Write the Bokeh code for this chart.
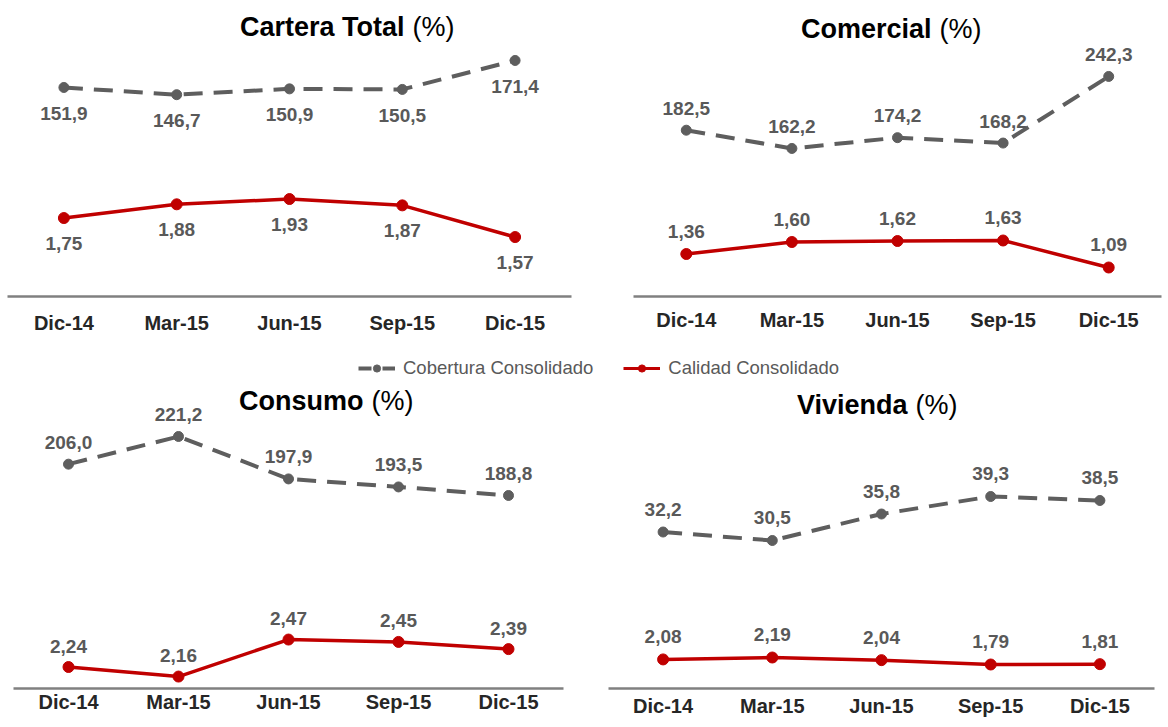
from bokeh.plotting import figure
from bokeh.models import ColumnDataSource, Range1d, FactorRange, Label, Legend, LegendItem
from bokeh.layouts import column, row
from bokeh.embed import file_html
from bokeh.resources import INLINE
from bokeh.core.properties import value

# ---------------- data ----------------
periods = ["Dic-14", "Mar-15", "Jun-15", "Sep-15", "Dic-15"]

cartera_cobertura = [151.9, 146.7, 150.9, 150.5, 171.4]
cartera_calidad = [1.75, 1.88, 1.93, 1.87, 1.57]
comercial_cobertura = [182.5, 162.2, 174.2, 168.2, 242.3]
comercial_calidad = [1.36, 1.60, 1.62, 1.63, 1.09]
consumo_cobertura = [206.0, 221.2, 197.9, 193.5, 188.8]
consumo_calidad = [2.24, 2.16, 2.47, 2.45, 2.39]
vivienda_cobertura = [32.2, 30.5, 35.8, 39.3, 38.5]
vivienda_calidad = [2.08, 2.19, 2.04, 1.79, 1.81]

titles = ["Cartera Total", "Comercial", "Consumo", "Vivienda"]
unit_text = "(%)"
series_names = ["Cobertura Consolidado", "Calidad Consolidado"]

# ---------------- style ----------------
GRAY = "#5e5e5e"
RED = "#c00000"
LABEL_COLOR = "#595959"
SANS = "Liberation Sans"


def fmt(v, d):
    return f"{v:.{d}f}".replace(".", ",")


def panel(title, cob, cal, width, height, left, right, bottom, cob_rng, cal_rng,
          cob_off, cal_off, bold_end, reg_start, title_y, standoff):
    p = figure(width=width, height=height, x_range=FactorRange(*periods),
               y_range=Range1d(*cob_rng), output_backend="svg", toolbar_location=None,
               y_axis_location=None, min_border_left=left, min_border_right=right,
               min_border_top=0, min_border_bottom=bottom, outline_line_color=None,
               background_fill_color="white", border_fill_color="white")
    p.extra_y_ranges = {"cal": Range1d(*cal_rng)}
    p.xgrid.visible = False
    p.ygrid.visible = False
    ax = p.xaxis[0]
    ax.axis_line_color = "#808080"
    ax.axis_line_width = 2.5
    ax.major_tick_line_color = None
    ax.minor_tick_line_color = None
    ax.major_tick_out = 0
    ax.major_tick_in = 0
    ax.minor_tick_out = 0
    ax.minor_tick_in = 0
    ax.major_label_text_font = SANS
    ax.major_label_text_font_style = "bold"
    ax.major_label_text_font_size = "20px"
    ax.major_label_text_color = "#262626"
    ax.major_label_standoff = standoff

    src = ColumnDataSource(dict(
        x=periods, cob=cob, cal=cal,
        cob_t=[fmt(v, 1) for v in cob], cal_t=[fmt(v, 2) for v in cal]))

    p.line("x", "cob", source=src, line_color=GRAY, line_width=4, line_dash="19 11")
    p.scatter("x", "cob", source=src, size=10, fill_color=GRAY, line_color=GRAY)
    p.line("x", "cal", source=src, line_color=RED, line_width=3.5, y_range_name="cal")
    p.scatter("x", "cal", source=src, size=11, fill_color=RED, line_color=RED,
              y_range_name="cal")

    common = dict(text_align="center", text_baseline="middle", text_font=value(SANS),
                  text_font_style="bold", text_font_size="19px", text_color=LABEL_COLOR)
    p.text("x", "cob", text="cob_t", source=src, y_offset=cob_off, **common)
    p.text("x", "cal", text="cal_t", source=src, y_offset=cal_off, y_range_name="cal",
           **common)

    fh = height - bottom
    p.add_layout(Label(x=bold_end, y=fh - title_y, x_units="screen", y_units="screen",
                       text=title, text_align="right", text_baseline="middle",
                       text_font=SANS, text_font_style="bold", text_font_size="27px",
                       text_color="black"))
    p.add_layout(Label(x=reg_start, y=fh - title_y, x_units="screen", y_units="screen",
                       text=unit_text, text_align="left", text_baseline="middle",
                       text_font=SANS, text_font_style="normal", text_font_size="27px",
                       text_color="black"))
    return p


p1 = panel(titles[0], cartera_cobertura, cartera_calidad, 590, 346, 7, 19, 48,
           (1.0, 214.7), (1.007, 3.81), 26, 25, 397, 405, 28, 15)
p2 = panel(titles[1], comercial_cobertura, comercial_calidad, 578, 346, 43, 7, 50,
           (-2.5, 326.8), (0.51, 6.43), -22, -23, 298, 306, 28, 12)
p3 = panel(titles[2], consumo_cobertura, consumo_calidad, 590, 348, 13, 27, 35,
           (82.8, 252.5), (2.060, 4.648), -22, -21, 350, 358, 25, 2)
p4 = panel(titles[3], vivienda_cobertura, vivienda_calidad, 578, 348, 18, 14, 39,
           (0.9, 62.7), (0.419, 18.076), -23, -23, 299, 307, 25, 6)

# ---------------- legend strip ----------------
nan = float("nan")
lg = figure(width=1168, height=33, output_backend="svg", toolbar_location=None,
            x_axis_location=None, y_axis_location=None, min_border=0,
            outline_line_color=None, x_range=Range1d(0, 1), y_range=Range1d(0, 1))
lg.grid.visible = False
r1 = lg.line([nan, nan], [nan, nan], line_color=GRAY, line_width=4, line_dash="13 11")
r2 = lg.scatter([nan], [nan], size=9, fill_color=GRAY, line_color=GRAY)
r3 = lg.line([nan, nan], [nan, nan], line_color=RED, line_width=3)
r4 = lg.scatter([nan], [nan], size=9, fill_color=RED, line_color=RED)
legend = Legend(items=[LegendItem(label=series_names[0], renderers=[r1, r2]),
                       LegendItem(label=series_names[1], renderers=[r3, r4])],
                location=(358, 0), orientation="horizontal", glyph_width=37,
                glyph_height=18, label_height=18, label_standoff=8, spacing=30,
                padding=0, margin=0, border_line_color=None, background_fill_alpha=0,
                label_text_font=SANS, label_text_font_size="18.5px",
                label_text_color=LABEL_COLOR)
lg.add_layout(legend)

layout = column(row(p1, p2), lg, row(p3, p4))

open("out.html", "w").write(file_html(layout, INLINE))
